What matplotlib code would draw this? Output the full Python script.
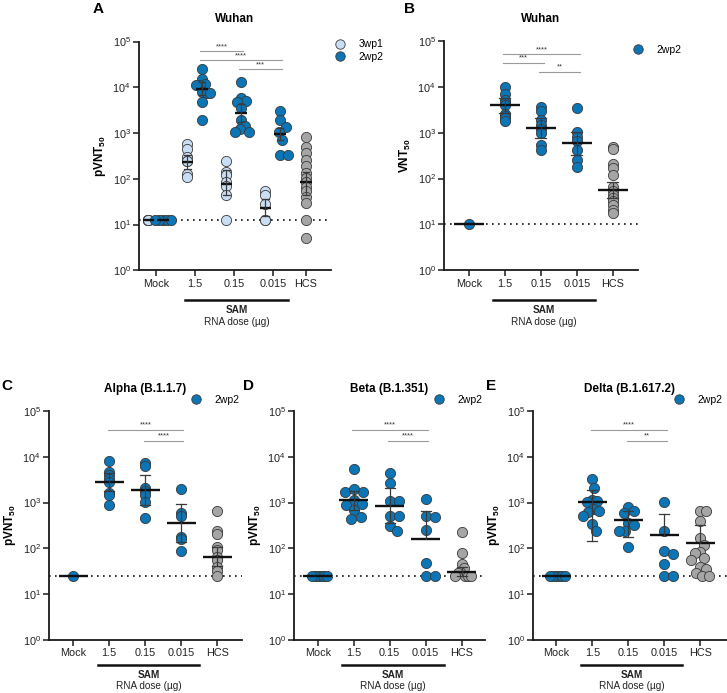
import numpy as np
import matplotlib
matplotlib.use('Agg')
import matplotlib.pyplot as plt
from matplotlib.lines import Line2D
from matplotlib.ticker import LogLocator, NullLocator

plt.rcParams['font.family'] = ['Liberation Sans', 'DejaVu Sans']
plt.rcParams['mathtext.fontset'] = 'custom'
plt.rcParams['mathtext.rm'] = 'Liberation Sans'
plt.rcParams['mathtext.bf'] = 'Liberation Sans:bold'
plt.rcParams['mathtext.it'] = 'Liberation Sans:italic'

doses = ['Mock', '1.5', '0.15', '0.015', 'HCS']

BLUE = '#0b75b6'
LIGHT = '#c9def4'
GREY = '#a5a5a5'

# ---- panel A (Wuhan, pVNT50), 3wp1 and 2wp2 for Mock/1.5/0.15/0.015, then HCS
a_3wp1 = [[12.5] * 5,
          [575, 450, 300, 250, 240, 130, 110],
          [250, 138, 120, 86, 70, 45, 12.5],
          [54, 45, 27.5, 12.5, 12.5]]
a_3wp1_gmt = [12.5, 235, 78, 23]
a_3wp1_lo = [12.5, 167, 45, 15]
a_3wp1_hi = [12.5, 330, 155, 36]

a_2wp2 = [[12.5] * 5,
          [25700, 15400, 11800, 11000, 11000, 7900, 7600, 7600, 4650, 1970],
          [13100, 5870, 5100, 4700, 3600, 1910, 1440, 1200, 1050, 1050],
          [3100, 1900, 1340, 1060, 690, 330, 330]]
a_2wp2_gmt = [12.5, 9350, 2750, 960]
a_2wp2_lo = [12.5, 6700, 1750, 700]
a_2wp2_hi = [12.5, 13000, 4400, 1260]

a_hcs = [800, 490, 360, 260, 190, 137, 102, 86, 67, 54, 39, 29, 12.5, 5]
a_hcs_gmt, a_hcs_lo, a_hcs_hi = 85, 44, 140
a_lod = 12.5
a_sig = [(1, 2, '****'), (1, 3, '****'), (2, 3, '***')]

# ---- panel B (Wuhan, VNT50), 2wp2 + HCS
b_vals = [[10],
          [9800, 6900, 5200, 4400, 4000, 2600, 2300, 2100, 1800],
          [3700, 3000, 1900, 1500, 1200, 980, 540, 420],
          [3400, 1050, 800, 660, 420, 255, 180],
          [500, 440, 205, 167, 120, 66, 54, 44, 38, 32, 26, 21, 17.5]]
b_gmt = [10, 3970, 1250, 590, 56]
b_lo = [10, 2640, 760, 325, 37]
b_hi = [10, 5800, 2050, 1050, 86]
b_lod = 10
b_sig = [(1, 3, '****'), (1, 2, '***'), (2, 3, '**')]

# ---- panel C (Alpha)
c_vals = [[25],
          [8100, 4760, 4000, 3300, 2800, 1650, 1470, 890],
          [7200, 6300, 2130, 1800, 1470, 1050, 470],
          [1950, 590, 510, 180, 158, 87],
          [670, 245, 204, 109, 93, 66, 56, 40, 32, 25]]
c_gmt = [25, 2820, 1900, 360, 66]
c_lo = [25, 1780, 890, 138, 42]
c_hi = [25, 4350, 4000, 930, 110]
c_sig = [(1, 3, '****'), (2, 3, '****')]

# ---- panel D (Beta)
d_vals = [[25] * 6,
          [5400, 1960, 1670, 1670, 1140, 930, 890, 680, 490, 430],
          [4500, 2630, 1100, 1100, 510, 510, 310, 235],
          [1180, 515, 480, 250, 49, 25, 25],
          [224, 81, 46, 37, 31, 29, 25, 25, 25, 25]]
d_gmt = [25, 1150, 860, 160, 31]
d_lo = [25, 700, 360, 160, 25]
d_hi = [25, 1750, 2050, 660, 40]
d_sig = [(1, 3, '****'), (2, 3, '****')]

# ---- panel E (Delta)
e_vals = [[25] * 6,
          [3200, 2050, 1140, 1060, 1030, 710, 665, 620, 520, 335, 240],
          [800, 645, 590, 365, 318, 240, 240, 110],
          [1050, 235, 87, 76, 45, 25, 25],
          [660, 660, 390, 166, 118, 83, 80, 61, 56, 40, 35, 29, 25, 25]]
e_gmt = [25, 1050, 410, 195, 128]
e_lo = [25, 145, 178, 195, 128]
e_hi = [25, 1920, 660, 550, 325]
e_sig = [(1, 3, '****'), (2, 3, '**')]
variant_lod = 25

W, H = 727, 693
fig = plt.figure(figsize=(W / 100, H / 100), dpi=100)


def add_ax(l, r, t, b):
    return fig.add_axes([l / W, 1 - b / H, (r - l) / W, (b - t) / H])


def style_ax(ax, xlim, ticks, ylab, title):
    ax.set_yscale('log')
    ax.set_ylim(1, 1e5)
    ax.set_xlim(*xlim)
    ax.yaxis.set_major_locator(LogLocator(base=10, numticks=10))
    ax.yaxis.set_minor_locator(NullLocator())
    ax.set_xticks(ticks)
    ax.set_xticklabels(doses)
    for s in ['top', 'right']:
        ax.spines[s].set_visible(False)
    for s in ['left', 'bottom']:
        ax.spines[s].set_linewidth(1.3)
        ax.spines[s].set_color('#1a1a1a')
    ax.tick_params(axis='both', length=4, width=1.1, labelsize=7.8, pad=2,
                   color='#1a1a1a', labelcolor='#222222')
    ax.set_ylabel(ylab, fontsize=8.5, labelpad=3)
    ax.set_title(title, fontsize=8.5, fontweight='bold', pad=14)


def swarm(ax, xc, vals, d, max_half):
    # simple beeswarm in pixel space
    pts = ax.transData.transform(np.column_stack([np.full(len(vals), xc), vals]))
    x0 = pts[0, 0]
    placed = []
    for y in pts[:, 1]:
        cands = [0.0]
        for px, py in placed:
            dy = y - py
            if abs(dy) < d:
                dx = np.sqrt(d * d - dy * dy)
                cands += [px + dx, px - dx]
        cands.sort(key=abs)
        for c in cands:
            if all((c - px) ** 2 + (y - py) ** 2 >= d * d - 1e-6 for px, py in placed):
                break
        placed.append((c, y))
    offs = np.array([p[0] for p in placed])
    m = np.abs(offs).max()
    if m > max_half:
        offs = offs * max_half / m
    back = ax.transData.inverted().transform(np.column_stack([x0 + offs, pts[:, 1]]))
    return back[:, 0]


def draw_group(ax, x, vals, gmt, lo, hi, color, hw, cw, jitter, max_half=9):
    vals = np.sort(np.array(vals, dtype=float))[::-1]
    if jitter:
        xs = swarm(ax, x, vals, 9.5, max_half)
    else:
        xs = np.full(len(vals), x)
    ax.scatter(xs, vals, s=54, color=color, edgecolors='#3a3a3a', linewidths=0.6,
               zorder=2, clip_on=False)
    ax.plot([x - hw, x + hw], [gmt, gmt], color='#111111', lw=1.7, zorder=4,
            solid_capstyle='butt')
    if hi > gmt or lo < gmt:
        ax.plot([x, x], [lo, hi], color='#3a3a3a', lw=0.9, zorder=4)
        for v in (lo, hi):
            if v != gmt:
                ax.plot([x - cw, x + cw], [v, v], color='#3a3a3a', lw=0.9, zorder=4)


def draw_lod(ax, lod):
    ax.axhline(lod, color='#111111', lw=1.2, dashes=(1, 2.6), zorder=1)


def draw_sig(ax, sig, x_of, top, step, left_pad, right_pad):
    for i, (g1, g2, lab) in enumerate(sig):
        y = 10 ** (top - step * i)
        x1 = x_of[g1] - left_pad
        x2 = x_of[g2] + right_pad
        ax.plot([x1, x2], [y, y], color='#9a9a9a', lw=0.8, zorder=1)
        ax.text((x1 + x2) / 2, y * 1.06, lab, fontsize=5.5, ha='center', va='bottom',
                color='#333333')


def draw_sam(ax, x0, x1, ybar, ysam, yrna):
    tr = ax.get_xaxis_transform()
    ax.plot([x0, x1], [ybar, ybar], transform=tr, clip_on=False, color='#111111', lw=1.8)
    mid = (x0 + x1) / 2
    ax.text(mid, ysam, 'SAM', transform=tr, ha='center', va='center', fontsize=7.2,
            fontweight='bold', color='#222222')
    ax.text(mid, yrna, 'RNA dose (µg)', transform=tr, ha='center', va='center',
            fontsize=7.2, color='#222222')


def legend(ax, entries, mx, my, spacing=0.25):
    handles = [Line2D([], [], marker='o', ls='none', markersize=6.8, markerfacecolor=c,
                      markeredgecolor='#3a3a3a', markeredgewidth=0.6) for c, _ in entries]
    ax.legend(handles, [l for _, l in entries], loc='center left',
              bbox_to_anchor=((mx - 5.2) / W, 1 - my / H), bbox_transform=fig.transFigure,
              frameon=False, fontsize=7.5, handlelength=1.0, handletextpad=1.3,
              borderpad=0, borderaxespad=0, labelspacing=spacing)


def letter(x, y, s):
    fig.text(x / W, 1 - y / H, s, fontsize=11, fontweight='bold', ha='center', va='center')


pvnt = r'$\mathbf{pVNT_{50}}$'
vnt = r'$\mathbf{VNT_{50}}$'

# ---------- A
axA = add_ax(139, 331, 41.5, 270.3)
posA = [0, 1, 2, 3, 3.85]
style_ax(axA, (-0.43, 4.49), posA, pvnt, 'Wuhan')
draw_lod(axA, a_lod)
for i in range(4):
    draw_group(axA, posA[i] - 0.19, a_3wp1[i], a_3wp1_gmt[i], a_3wp1_lo[i], a_3wp1_hi[i],
               LIGHT, 0.15, 0.08, False)
    draw_group(axA, posA[i] + 0.19, a_2wp2[i], a_2wp2_gmt[i], a_2wp2_lo[i], a_2wp2_hi[i],
               BLUE, 0.15, 0.08, True, 8)
draw_group(axA, posA[4], a_hcs, a_hcs_gmt, a_hcs_lo, a_hcs_hi, GREY, 0.15, 0.08, False)
draw_sig(axA, a_sig, [p + 0.19 for p in posA], 4.79, 0.2, 0.05, 0.05)
draw_sam(axA, 0.75, 3.4, -0.13, -0.174, -0.227)
legend(axA, [(LIGHT, '3wp1'), (BLUE, '2wp2')], 340, 50.5)
letter(98.5, 9, 'A')

# ---------- B
axB = add_ax(444, 638, 41, 270.3)
pos = [0, 1, 2, 3, 4]
style_ax(axB, (-0.69, 4.70), pos, vnt, 'Wuhan')
draw_lod(axB, b_lod)
for i in range(5):
    draw_group(axB, pos[i], b_vals[i], b_gmt[i], b_lo[i], b_hi[i],
               GREY if i == 4 else BLUE, 0.42, 0.15, False)
draw_sig(axB, b_sig, pos, 4.71, 0.19, 0.05, 0.1)
draw_sam(axB, 0.68, 3.5, -0.13, -0.174, -0.225)
legend(axB, [(BLUE, '2wp2')], 638, 50)
letter(409.5, 9, 'B')

# ---------- C, D, E
panels = [
    (49, 242, (-0.675, 4.69), c_vals, c_gmt, c_lo, c_hi, c_sig, 'Alpha (B.1.1.7)', False, 196, 7, 'C'),
    (294, 485, (-0.66, 4.65), d_vals, d_gmt, d_lo, d_hi, d_sig, 'Beta (B.1.351)', True, 439, 249, 'D'),
    (533, 727, (-0.65, 4.74), e_vals, e_gmt, e_lo, e_hi, e_sig, 'Delta (B.1.617.2)', True, 679, 491, 'E'),
]
for l, r, xl, vals, gmt, lo, hi, sig, title, jit, lx, ltx, let in panels:
    ax = add_ax(l, r, 411, 640)
    style_ax(ax, xl, pos, pvnt, title)
    draw_lod(ax, variant_lod)
    for i in range(5):
        draw_group(ax, pos[i], vals[i], gmt[i], lo[i], hi[i],
                   GREY if i == 4 else BLUE, 0.4, 0.14, jit, 9)
    draw_sig(ax, sig, pos, 4.585, 0.23, 0.04, 0.06)
    draw_sam(ax, 0.68, 3.5, -0.109, -0.151, -0.199)
    legend(ax, [(BLUE, '2wp2')], lx, 400)
    letter(ltx, 386, let)

fig.savefig('out.png', dpi=100)
